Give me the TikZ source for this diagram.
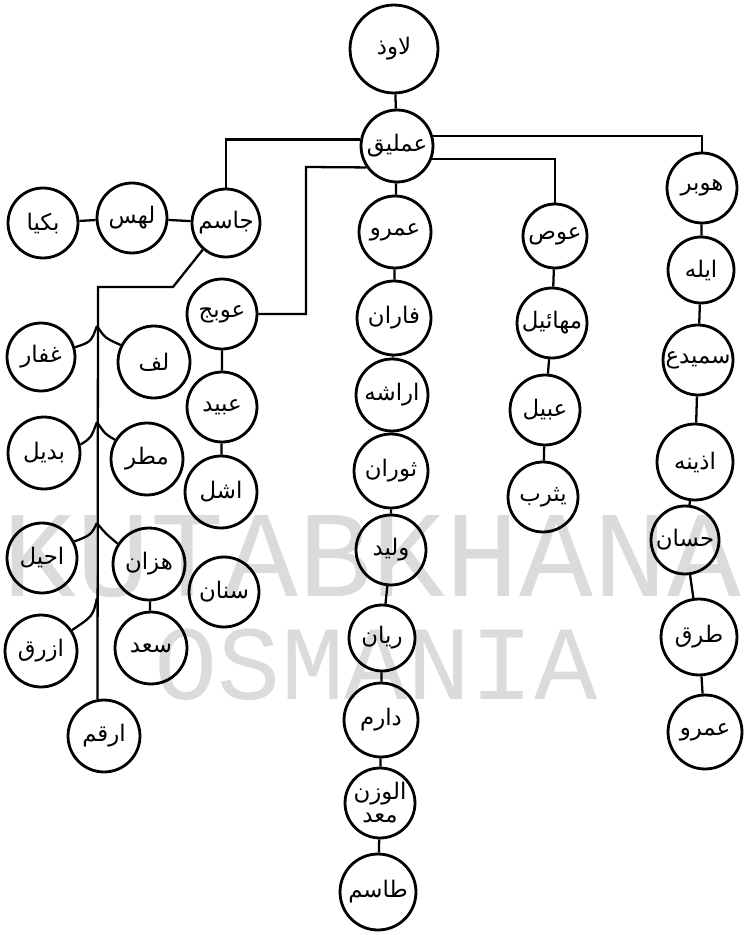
\documentclass[tikz,border=0pt]{standalone}
\usepackage{fontspec}
\newfontfamily\arabicfont[Script=Arabic]{DejaVu Sans}
\newfontfamily\markfont{Liberation Mono}
\TeXXeTstate=1
\newcommand\artxt[1]{{\arabicfont\beginR #1\endR}}
\begin{document}
\begin{tikzpicture}[x=0.02cm, y=-0.02cm,
  person/.style={circle, draw, line width=1.6pt, inner sep=0pt, align=center,
    minimum size=#1*0.04cm, font=\arabicfont\fontsize{13}{14}\selectfont},
  person/.default=36,
  link/.style={line width=1.3pt},
  stamp/.style={text=black!14, inner sep=0pt}]
\useasboundingbox (0,0) rectangle (744,935);

% library stamp behind the tree
\node[stamp, font=\markfont\fontsize{70}{70}\selectfont] (stampA) at (372,557) {KUTABKHANA};
\node[stamp, font=\markfont\fontsize{60}{60}\selectfont] (stampB) at (376,665) {OSMANIA};

% root and first generation
\node[person=44] (lawudh) at (394,49) {\artxt{لاوذ}};
\node[person] (amliq) at (397,146) {\artxt{عملیق}};

% branch of Jasim
\node[person=34] (jasim) at (226,223) {\artxt{جاسم}};
\node[person=35] (jl1) at (132,218) {\artxt{لهس}};
\node[person=35] (jl2) at (43,223) {\artxt{بکیا}};
\node[person=34] (ghaffar) at (41,357) {\artxt{غفار}};
\node[person] (lif) at (154,362) {\artxt{لف}};
\node[person] (badil) at (44,453) {\artxt{بدیل}};
\node[person] (matar) at (147,459) {\artxt{مطر}};
\node[person=35] (ahil) at (42,558) {\artxt{احیل}};
\node[person] (hazzan) at (149,564) {\artxt{هزان}};
\node[person] (saad) at (151,648) {\artxt{سعد}};
\node[person] (azraq) at (41,651) {\artxt{ازرق}};
\node[person] (arqam) at (104,736) {\artxt{ارقم}};

% branch of Awbaj
\node[person=35] (awbaj) at (222,314) {\artxt{عوبج}};
\node[person=35] (ubaid) at (222,407) {\artxt{عبید}};
\node[person] (ashal) at (221,492) {\artxt{اشل}};
\node[person=35] (sinan) at (224,592) {\artxt{سنان}};

% middle line
\node[person] (amr1) at (395,232) {\artxt{عمرو}};
\node[person=37] (faran) at (394,318) {\artxt{فاران}};
\node[person] (arasha) at (392,395) {\artxt{اراشه}};
\node[person=37] (thawran) at (391,471) {\artxt{ثوران}};
\node[person=35] (walid) at (391,550) {\artxt{ولید}};
\node[person=33] (rayyan) at (382,638) {\artxt{ریان}};
\node[person=37] (darim) at (381,720) {\artxt{دارم}};
\node[person=35] (maad) at (380,803) {\artxt{الوزن}\\[-1pt]\artxt{معد}};
\node[person=38] (tasim) at (378,892) {\artxt{طاسم}};

% line of Aws
\node[person=32] (aws) at (555,236) {\artxt{عوص}};
\node[person=35] (mahail) at (552,323) {\artxt{مهائیل}};
\node[person=35] (ubail) at (545,410) {\artxt{عبیل}};
\node[person=35] (yathrib) at (543,497) {\artxt{یثرب}};

% line of Hawbar
\node[person=35] (hawbar) at (702,188) {\artxt{هوبر}};
\node[person=33] (ayla) at (701,270) {\artxt{ایله}};
\node[person=35] (samayda) at (698,360) {\artxt{سمیدع}};
\node[person=38] (udhayna) at (695,462) {\artxt{اذینه}};
\node[person=34] (hassan) at (685,540) {\artxt{حسان}};
\node[person=38] (tarq) at (699,637) {\artxt{طرق}};
\node[person=37] (amr2) at (705,732) {\artxt{عمرو}};

% bend points and branch points
\coordinate (bendA) at (306,167);
\coordinate (kneeA) at (173,287);
\coordinate (trunkTop) at (98,287);
\coordinate (b1) at (97,326);
\coordinate (b2) at (97,422);
\coordinate (b3) at (97,523);
\coordinate (b4) at (97,598);

% connectors
\draw[link] (lawudh) -- (amliq);
\draw[link] (amliq.170) -| (jasim.north);
\draw[link] (amliq.16) -| (hawbar.north);
\draw[link] (amliq.-20) -| (aws.north);
\draw[link] (amliq.215) -- (bendA) |- (awbaj.east);
\draw[link] (amliq) -- (amr1);

\draw[link] (amr1) -- (faran) -- (arasha) -- (thawran) -- (walid)
  -- (rayyan) -- (darim) -- (maad) -- (tasim);
\draw[link] (aws) -- (mahail) -- (ubail) -- (yathrib);
\draw[link] (hawbar) -- (ayla) -- (samayda) -- (udhayna) -- (hassan)
  -- (tarq) -- (amr2);
\draw[link] (awbaj) -- (ubaid) -- (ashal);

\draw[link] (jasim) -- (jl1) -- (jl2);
\draw[link] (jasim.229) -- (kneeA) -- (trunkTop) -- (arqam.100);

\draw[link] (b1) .. controls +(-6,16) .. (ghaffar.16);
\draw[link] (b1) .. controls +(8,12) .. (lif.153);
\draw[link] (b2) .. controls +(-6,16) .. (badil.13);
\draw[link] (b2) .. controls +(8,12) .. (matar.149);
\draw[link] (b3) .. controls +(-6,12) .. (ahil.27);
\draw[link] (b3) .. controls +(8,10) .. (hazzan.147);
\draw[link] (b4) .. controls +(-4,18) .. (azraq.34);
\draw[link] (hazzan) -- (saad);
\end{tikzpicture}
\end{document}
